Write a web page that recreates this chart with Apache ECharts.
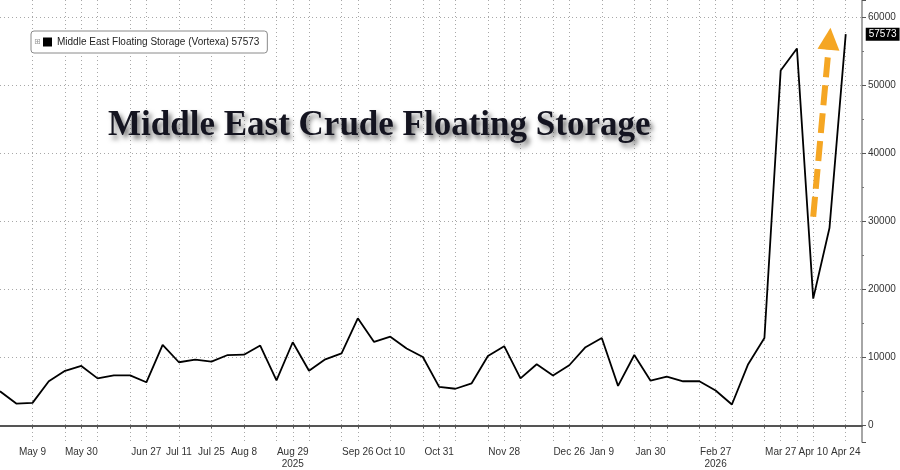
<!DOCTYPE html>
<html>
<head>
<meta charset="utf-8">
<script src="https://cdn.jsdelivr.net/npm/echarts@6/dist/echarts.min.js"></script>
<style>
  html, body { margin: 0; padding: 0; background: #fff; }
  #chart { width: 900px; height: 470px; }
</style>
</head>
<body>
<div id="chart"></div>
<script>
// weekly dates (last one is an empty slot so Apr 24 sits inside the axis)
const weeks = [
  '2025-04-25', '2025-05-02', '2025-05-09', '2025-05-16', '2025-05-23', '2025-05-30',
  '2025-06-06', '2025-06-13', '2025-06-20', '2025-06-27', '2025-07-04', '2025-07-11',
  '2025-07-18', '2025-07-25', '2025-08-01', '2025-08-08', '2025-08-15', '2025-08-22',
  '2025-08-29', '2025-09-05', '2025-09-12', '2025-09-19', '2025-09-26', '2025-10-03',
  '2025-10-10', '2025-10-17', '2025-10-24', '2025-10-31', '2025-11-07', '2025-11-14',
  '2025-11-21', '2025-11-28', '2025-12-05', '2025-12-12', '2025-12-19', '2025-12-26',
  '2026-01-02', '2026-01-09', '2026-01-16', '2026-01-23', '2026-01-30', '2026-02-06',
  '2026-02-13', '2026-02-20', '2026-02-27', '2026-03-06', '2026-03-13', '2026-03-20',
  '2026-03-27', '2026-04-03', '2026-04-10', '2026-04-17', '2026-04-24', '2026-05-01'
];

// Middle East floating storage (Vortexa)
const storage = [
  5000, 3200, 3300, 6480, 8020, 8740, 6910, 7340, 7340, 6330,
  11840, 9280, 9660, 9370, 10340, 10390, 11740, 6620, 12220, 8020,
  9710, 10580, 15750, 12270, 13040, 11300, 10050, 5650, 5380, 6180,
  10190, 11640, 6910, 8990, 7340, 8840, 11500, 12850, 5800, 10340,
  6570, 7170, 6480, 6480, 5120, 3060, 8990, 12850, 52220, 55460,
  18650, 29030, 57573
];

const labelDates = [
  '2025-05-09', '2025-05-30', '2025-06-27', '2025-07-11', '2025-07-25', '2025-08-08',
  '2025-08-29', '2025-09-26', '2025-10-10', '2025-10-31', '2025-11-28', '2025-12-26',
  '2026-01-09', '2026-01-30', '2026-02-27', '2026-03-27', '2026-04-10', '2026-04-24'
];
const yearDates = ['2025-08-29', '2026-02-27'];

const gridDates = [
  '2025-05-09', '2025-05-23', '2025-05-30', '2025-06-06', '2025-06-20', '2025-06-27',
  '2025-07-11', '2025-07-25', '2025-08-08', '2025-08-22', '2025-08-29', '2025-09-05',
  '2025-09-19', '2025-09-26', '2025-10-10', '2025-10-24', '2025-10-31', '2025-11-07',
  '2025-11-21', '2025-11-28', '2025-12-05', '2025-12-19', '2025-12-26', '2026-01-09',
  '2026-01-23', '2026-01-30', '2026-02-06', '2026-02-20', '2026-02-27', '2026-03-06',
  '2026-03-20', '2026-03-27', '2026-04-03', '2026-04-10', '2026-04-24'
];

const months = ['Jan', 'Feb', 'Mar', 'Apr', 'May', 'Jun', 'Jul', 'Aug', 'Sep', 'Oct', 'Nov', 'Dec'];
const seriesName = 'Middle East Floating Storage (Vortexa)';
const lastValue = storage[storage.length - 1];

const axisFont = '"Liberation Sans", Arial, sans-serif';
const dotted = { color: '#a8a8a8', width: 1, type: [1, 3] };

const chart = echarts.init(document.getElementById('chart'), null, { renderer: 'canvas' });

chart.setOption({
    animation: false,
    backgroundColor: '#fff',
    title: {
        text: 'Middle East Crude Floating Storage',
        left: 103,
        top: 103,
        padding: 5,
        textStyle: {
            fontFamily: '"Liberation Serif", "Times New Roman", serif',
            fontWeight: 'bold',
            fontSize: 35,
            color: '#141420',
            textShadowColor: 'rgba(0,0,0,0.55)',
            textShadowBlur: 5,
            textShadowOffsetX: 3,
            textShadowOffsetY: 4
        }
    },
    legend: {
        left: 31,
        top: 31,
        data: [seriesName],
        selectedMode: false,
        icon: 'rect',
        itemWidth: 9,
        itemHeight: 9,
        padding: [6, 8, 6, 12],
        backgroundColor: '#fff',
        borderColor: '#8a8a8a',
        borderWidth: 1,
        borderRadius: 3,
        formatter: name => name + ' ' + lastValue,
        textStyle: {
            fontFamily: axisFont,
            fontSize: 10,
            color: '#222'
        }
    },
    graphic: [
        {
            type: 'text',
            left: 34,
            top: 38,
            z: 100,
            style: { text: '⊞', fontSize: 8, fill: '#999', fontFamily: 'DejaVu Sans' }
        }
    ],
    grid: {
        left: 0,
        right: 38,
        top: 0,
        bottom: 21,
        containLabel: false
    },
    xAxis: {
        type: 'category',
        data: weeks,
        boundaryGap: false,
        axisLine: { lineStyle: { color: '#555', width: 2 } },
        axisTick: {
            interval: (i, v) => gridDates.includes(v),
            length: 3,
            lineStyle: { color: '#555' }
        },
        axisLabel: {
            interval: (i, v) => labelDates.includes(v),
            margin: 4,
            fontFamily: axisFont,
            fontSize: 10,
            lineHeight: 12,
            color: '#333',
            formatter: v => {
                const d = v.split('-');
                let s = months[+d[1] - 1] + ' ' + (+d[2]);
                if (yearDates.includes(v)) s += '\n' + d[0];
                return s;
            }
        },
        splitLine: {
            show: true,
            interval: (i, v) => gridDates.includes(v),
            lineStyle: dotted
        }
    },
    yAxis: {
        type: 'value',
        position: 'right',
        min: -2460,
        max: 62600,
        axisLine: { show: true, lineStyle: { color: '#888', width: 1.5 } },
        axisTick: { show: true, length: 4, lineStyle: { color: '#555' } },
        minorTick: { show: true, splitNumber: 2, length: 2, lineStyle: { color: '#777' } },
        axisLabel: {
            showMinLabel: false,
            showMaxLabel: false,
            margin: 6,
            fontFamily: axisFont,
            fontSize: 10,
            color: '#333',
            formatter: v => String(v)
        },
        splitLine: {
            show: true,
            showMinLine: false,
            showMaxLine: false,
            lineStyle: dotted
        }
    },
    series: [
        {
            name: seriesName,
            type: 'line',
            data: storage,
            showSymbol: false,
            symbol: 'none',
            color: '#000',
            lineStyle: { color: '#000', width: 1.8 },
            endLabel: {
                show: true,
                distance: 20,
                formatter: p => String(p.value),
                backgroundColor: '#000',
                color: '#fff',
                fontFamily: axisFont,
                fontSize: 10,
                padding: [2, 3, 1, 3]
            },
            markLine: {
                silent: true,
                animation: false,
                label: { show: false },
                symbol: ['none', 'triangle'],
                symbolSize: 22,
                lineStyle: { color: '#F5A623', width: 6, type: [20, 8] },
                data: [
                    [
                        { coord: ['2026-04-10', 30700] },
                        { coord: ['2026-04-17', 56900] }
                    ]
                ]
            }
        }
    ]
});
</script>
</body>
</html>
